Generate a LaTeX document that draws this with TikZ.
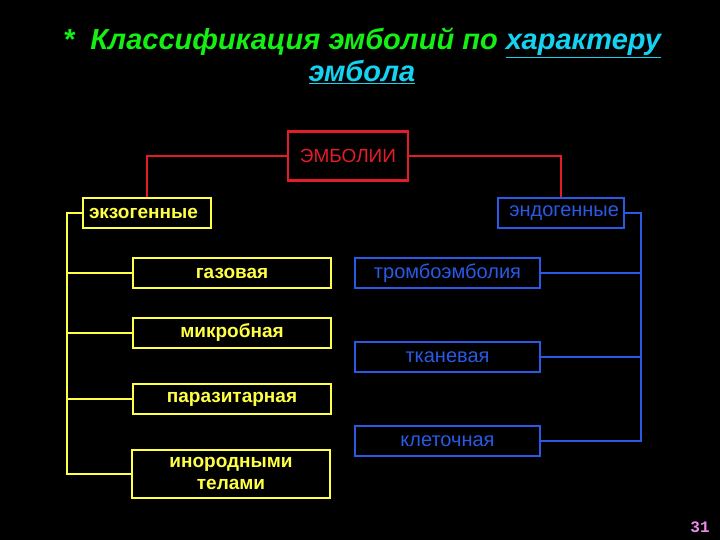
\documentclass[tikz,border=0pt]{standalone}
\usepackage{fontspec}
\setmainfont{Liberation Sans}
\setmonofont{Liberation Mono}
\definecolor{ylw}{RGB}{255,255,70}
\definecolor{rd}{RGB}{228,28,40}
\definecolor{bl}{RGB}{40,90,230}
\definecolor{grn}{RGB}{20,240,20}
\definecolor{cyn}{RGB}{20,210,240}
\definecolor{pnk}{RGB}{235,140,235}
\begin{document}
\begin{tikzpicture}[x=1pt,y=-1pt,
    ybox/.style={draw=ylw,line width=1.8pt,text=ylw,font=\bfseries\fontsize{19}{21}\selectfont,
      minimum width=198,minimum height=30,inner sep=0pt},
    bbox/.style={draw=bl,line width=1.8pt,text=bl,font=\fontsize{20}{22}\selectfont,
      minimum width=185,minimum height=30,inner sep=0pt},
    yline/.style={ylw,line width=1.8pt},
    bline/.style={bl,line width=1.8pt},
    rline/.style={rd,line width=2pt}]
    \fill[black] (0,0) rectangle (720,540);
    % title
    \node[font=\bfseries\itshape\fontsize{29}{32}\selectfont,text=grn,align=center] (title) at (362,56)
      {*\ \ Классификация эмболий по \textcolor{cyn}{\underline{характеру}}\\\textcolor{cyn}{\underline{эмбола}}};
    % root
    \node[draw=rd,line width=2.6pt,text=rd,font=\fontsize{19}{21}\selectfont,
      minimum width=120,minimum height=49,inner sep=0pt] (emb) at (348,156) {ЭМБОЛИИ};
    \node[draw=ylw,line width=1.8pt,text=ylw,font=\bfseries\fontsize{19}{21}\selectfont,
      minimum width=128,minimum height=30,inner sep=0pt,text width=116,align=left] (exo) at (147,213) {экзогенные};
    \node[draw=bl,line width=1.8pt,text=bl,font=\fontsize{20}{22}\selectfont,
      minimum width=126,minimum height=30,inner sep=0pt,text width=116,align=right] (endo) at (561,213) {эндогенные};
    % exogenous
    \node[ybox] (gas) at (232,273) {газовая};
    \node[ybox] (mic) at (232,333) {микробная};
    \node[ybox] (par) at (232,399) {паразитарная};
    \node[ybox,minimum height=48,align=center,font=\bfseries\fontsize{19}{22}\selectfont,
      text depth=2pt] (ino) at (231,474) {инородными\\телами};
    % endogenous
    \node[bbox] (trom) at (447.5,273) {тромбоэмболия};
    \node[bbox] (tkan) at (447.5,357) {тканевая};
    \node[bbox] (klet) at (447.5,441) {клеточная};
    % connectors
    \draw[rline] (emb.west) -| (exo.north);
    \draw[rline] (emb.east) -| (endo.north);
    \coordinate (ytop) at (67,213);
    \draw[yline] (exo.west) -- (ytop) |- (ino.west);
    \foreach \n in {gas,mic,par}
      \draw[yline] (ytop |- \n.west) -- (\n.west);
    \coordinate (btop) at (641,213);
    \draw[bline] (endo.east) -- (btop) |- (klet.east);
    \foreach \n in {trom,tkan}
      \draw[bline] (btop |- \n.east) -- (\n.east);
    % page number
    \node[text=pnk,font=\ttfamily\bfseries\fontsize{16}{16}\selectfont] (pg) at (700,527) {31};
\end{tikzpicture}
\end{document}
